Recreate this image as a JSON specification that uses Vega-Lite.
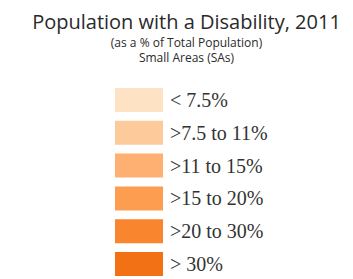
{
  "$schema": "https://vega.github.io/schema/vega-lite/v6.json",
  "width": 353,
  "height": 209,
  "autosize": {"type": "none"},
  "padding": {"top": 70, "left": 0, "right": 0, "bottom": 0},
  "background": "white",
  "title": {
    "text": "Population with a Disability, 2011",
    "subtitle": ["(as a % of Total Population)", "Small Areas (SAs)"],
    "anchor": "middle",
    "frame": "group",
    "dx": 10,
    "offset": 6,
    "font": "Open Sans",
    "fontSize": 20,
    "fontWeight": "normal",
    "color": "#2a2a2a",
    "subtitleFont": "Open Sans",
    "subtitleFontSize": 12,
    "subtitleColor": "#2a2a2a",
    "subtitlePadding": 5,
    "subtitleLineHeight": 15
  },
  "data": {
    "values": [
      {"cls": "< 7.5%"},
      {"cls": ">7.5 to 11%"},
      {"cls": ">11 to 15%"},
      {"cls": ">15 to 20%"},
      {"cls": ">20 to 30%"},
      {"cls": "> 30%"}
    ]
  },
  "encoding": {
    "y": {
      "field": "cls",
      "type": "nominal",
      "sort": null,
      "scale": {"type": "band", "range": [18, 206], "paddingInner": 0.27, "paddingOuter": 0},
      "axis": null
    }
  },
  "layer": [
    {
      "mark": {"type": "rect"},
      "encoding": {
        "x": {
          "datum": "swatch",
          "type": "nominal",
          "scale": {"domain": ["swatch", "label"], "range": [115, 211], "paddingInner": 0, "paddingOuter": 0},
          "axis": null
        },
        "color": {
          "field": "cls",
          "type": "nominal",
          "sort": null,
          "scale": {"range": ["#fee2c4", "#fdca9c", "#fdb071", "#fc9d50", "#f9862e", "#f27115"]},
          "legend": null
        }
      }
    },
    {
      "mark": {"type": "text", "align": "left", "baseline": "middle", "dx": 7, "dy": 1, "font": "Liberation Serif", "fontSize": 20, "color": "#333333"},
      "encoding": {
        "x": {"datum": "label", "type": "nominal", "bandPosition": 0},
        "text": {"field": "cls"}
      }
    }
  ],
  "config": {"view": {"stroke": null}}
}
